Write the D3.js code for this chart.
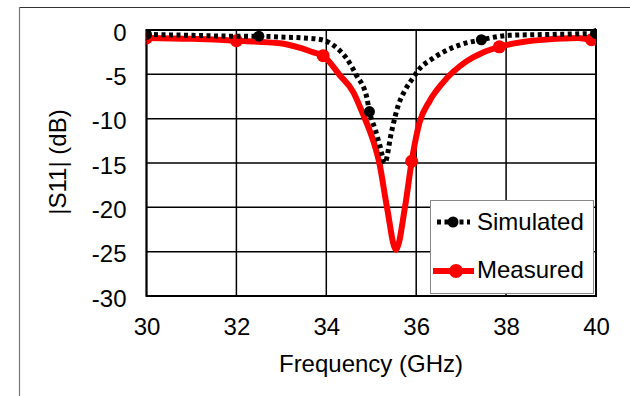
<!DOCTYPE html>
<html><head><meta charset="utf-8">
<script src="https://cdn.jsdelivr.net/npm/d3@7"></script>
<style>body{margin:0;background:#fff}svg{display:block}text{font-family:"Liberation Sans",Arial,sans-serif}</style>
</head><body><svg id="c" width="630" height="396"></svg>
<script>
const xTicks = [30, 32, 34, 36, 38, 40];
const yTicks = [0, -5, -10, -15, -20, -25, -30];
const simFreq = [30, 31, 32, 32.5, 33, 33.5, 33.9, 34.15, 34.45, 34.67, 34.9, 34.96, 35.1, 35.2, 35.3, 35.45, 35.6, 35.75, 35.93, 36.07, 36.37, 36.6, 36.96, 37.45, 38.07, 39, 40];
const simS11 = [-0.5, -0.6, -0.7, -0.7, -0.8, -0.9, -1.1, -1.7, -3.2, -5.1, -7.6, -9.2, -11.4, -13.2, -15.0, -11.5, -8.5, -6.8, -5.4, -4.4, -3.2, -2.5, -1.7, -1.1, -0.6, -0.5, -0.4];
const simMarkerFreq = [30, 32.5, 34.96, 37.45, 40];
const measFreq = [30, 31, 32, 32.97, 33.4, 33.7, 33.93, 34.3, 34.6, 34.8, 35.05, 35.18, 35.35, 35.55, 35.75, 35.9, 36.07, 36.3, 36.6, 37.1, 37.5, 37.85, 38.6, 39.6, 39.9, 40];
const measS11 = [-0.9, -1.0, -1.2, -1.5, -2.0, -2.5, -2.9, -5.1, -7.0, -9.3, -12.6, -15.0, -20.0, -24.8, -20.0, -14.8, -10.5, -8.0, -5.9, -3.6, -2.5, -1.9, -1.2, -0.9, -1.1, -1.1];
const measMarkerFreq = [30, 32, 33.93, 35.9, 37.85, 39.9];
const seriesNames = ["Simulated", "Measured"];

const svg = d3.select("#c");
const L = 146.5, R = 596, T = 30, B = 296;
const FONT = "Liberation Sans, Arial, sans-serif";
const x = d3.scaleLinear().domain([30, 40]).range([L, R]);
const y = d3.scaleLinear().domain([-30, 0]).range([B, T]);

// outer frame
svg.append("line").attr("x1", 19).attr("y1", 7.5).attr("x2", 630).attr("y2", 7.5).attr("stroke", "#333").attr("stroke-width", 1);
svg.append("line").attr("x1", 19.5).attr("y1", 7).attr("x2", 19.5).attr("y2", 396).attr("stroke", "#777").attr("stroke-width", 1.2);

// grid
const g = svg.append("g");
g.selectAll(".gy").data(yTicks).join("line").attr("x1", L).attr("x2", R).attr("y1", d => y(d)).attr("y2", d => y(d)).attr("stroke", "#000").attr("stroke-width", 1.5);
g.selectAll(".gx").data(xTicks).join("line").attr("y1", T).attr("y2", B).attr("x1", d => x(d)).attr("x2", d => x(d)).attr("stroke", "#000").attr("stroke-width", 1.5);
svg.append("rect").attr("x", L).attr("y", T).attr("width", R - L).attr("height", B - T).attr("fill", "none").attr("stroke", "#000").attr("stroke-width", 2);

// axes
const yAxis = svg.append("g").attr("transform", `translate(${L},0)`).call(d3.axisLeft(y).tickValues(yTicks).tickSize(0).tickPadding(20).tickFormat(d => String(d)));
yAxis.select(".domain").remove();
yAxis.attr("font-size", 24).attr("font-family", FONT);
yAxis.selectAll("text").attr("fill", "#000").attr("dy", "0.42em");
const xAxis = svg.append("g").attr("transform", `translate(0,${B})`).call(d3.axisBottom(x).tickValues(xTicks).tickSize(0).tickPadding(22).tickFormat(d => String(d)));
xAxis.select(".domain").remove();
xAxis.attr("font-size", 24).attr("font-family", FONT);
xAxis.selectAll("text").attr("fill", "#000");

svg.append("text").attr("x", 371).attr("y", 372).attr("text-anchor", "middle").attr("font-size", 24).text("Frequency (GHz)");
svg.append("text").attr("transform", "translate(66,162) rotate(-90)").attr("text-anchor", "middle").attr("font-size", 24).text("|S11| (dB)");

// clip
svg.append("clipPath").attr("id", "clip").append("rect").attr("x", L).attr("y", T - 8).attr("width", R - L).attr("height", B - T + 8);
const plot = svg.append("g").attr("clip-path", "url(#clip)");
const line = d3.line().x(d => x(d[0])).y(d => y(d[1])).curve(d3.curveMonotoneX);
const sim = simFreq.map((f, i) => [f, simS11[i]]);
const meas = measFreq.map((f, i) => [f, measS11[i]]);
const interp = (arr, f) => { const xs = arr.map(d => d[0]); const i = d3.bisectLeft(xs, f); if (xs[i] === f) return arr[i][1]; const a = arr[i - 1], b = arr[i]; return a[1] + (b[1] - a[1]) * (f - a[0]) / (b[0] - a[0]); };

plot.append("path").datum(meas).attr("d", line).attr("fill", "none").attr("stroke", "#ff0000").attr("stroke-width", 6).attr("stroke-linejoin", "round");
plot.selectAll(".mm").data(measMarkerFreq).join("circle").attr("cx", d => x(d)).attr("cy", d => y(interp(meas, d))).attr("r", 6.5).attr("fill", "#ff0000");
plot.append("path").datum(sim).attr("d", line).attr("fill", "none").attr("stroke", "#000").attr("stroke-width", 5).attr("stroke-dasharray", "4,3.5");
plot.selectAll(".sm").data(simMarkerFreq).join("circle").attr("cx", d => x(d)).attr("cy", d => y(interp(sim, d))).attr("r", 5.5).attr("fill", "#000");

// legend
const lg = svg.append("g");
lg.append("rect").attr("x", 430.5).attr("y", 200.5).attr("width", 163).attr("height", 93).attr("fill", "#fff").attr("stroke", "#888").attr("stroke-width", 1);
const ly = [222, 271];
lg.append("line").attr("x1", 437).attr("x2", 470).attr("y1", ly[0]).attr("y2", ly[0]).attr("stroke", "#000").attr("stroke-width", 5).attr("stroke-dasharray", "4,3.5");
lg.append("circle").attr("cx", 453).attr("cy", ly[0]).attr("r", 5.5).attr("fill", "#000");
lg.append("line").attr("x1", 433).attr("x2", 474).attr("y1", ly[1]).attr("y2", ly[1]).attr("stroke", "#ff0000").attr("stroke-width", 6);
lg.append("circle").attr("cx", 456).attr("cy", ly[1]).attr("r", 7).attr("fill", "#ff0000");
lg.selectAll(".lt").data(seriesNames).join("text").attr("x", 477).attr("y", (d, i) => [230, 278][i]).attr("font-size", 24).attr("fill", "#000").text(d => d);
</script></body></html>
